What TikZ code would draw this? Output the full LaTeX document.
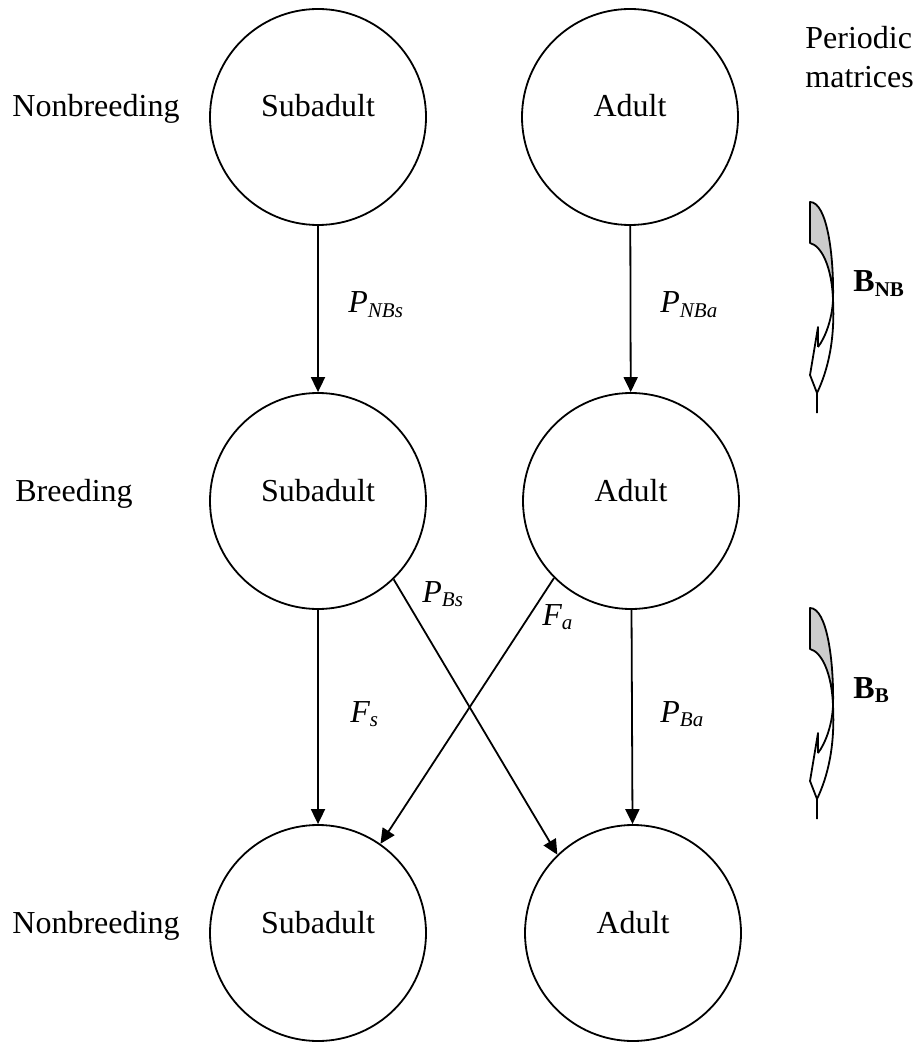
\documentclass[tikz,border=0pt]{standalone}
\usepackage{fontspec}
\setmainfont{Liberation Serif}
\usetikzlibrary{arrows.meta}
\newcommand{\subx}[2]{#1\raisebox{-2.3pt}{\fontsize{10.5}{12}\selectfont #2}}
\begin{document}
\begin{tikzpicture}[x=0.5pt,y=-0.5pt,
  circ/.style={circle,draw,line width=0.9pt,minimum size=108pt,inner sep=0pt},
  txt/.style={font=\fontsize{16}{19}\selectfont,inner sep=0pt},
  arr/.style={line width=0.9pt,-{Triangle[length=7.5pt,width=7pt]}},
  crv/.style={line width=0.9pt,line join=round},
  shadeback/.style={fill=black!20,draw,line width=0.9pt,line join=round}]
\useasboundingbox (0,0) rectangle (918,1042);
% circles
\node[circ] (s1) at (318,117) {};
\node[circ] (a1) at (630,117) {};
\node[circ] (s2) at (318,501) {};
\node[circ] (a2) at (631,501) {};
\node[circ] (s3) at (318,933) {};
\node[circ] (a3) at (633,933) {};
% circle texts
\node[txt,anchor=base] (ts1) at (318,117) {Subadult};
\node[txt,anchor=base] (ta1) at (630,117) {Adult};
\node[txt,anchor=base] (ts2) at (318,501) {Subadult};
\node[txt,anchor=base] (ta2) at (631,501) {Adult};
\node[txt,anchor=base] (ts3) at (318,933) {Subadult};
\node[txt,anchor=base] (ta3) at (633,933) {Adult};
% row labels
\node[txt,anchor=base] (r1) at (96,117) {Nonbreeding};
\node[txt,anchor=base] (r2) at (74,501) {Breeding};
\node[txt,anchor=base] (r3) at (96,933) {Nonbreeding};
\node[txt,anchor=base west] (pm) at (805,49) {Periodic};
\node[txt,anchor=base west] (pm2) at (805,88) {matrices};
% connectors
\draw[arr] (s1) -- (s2);
\draw[arr] (a1) -- (a2);
\draw[arr] (s2) -- (s3);
\draw[arr] (a2) -- (a3);
\draw[arr] (s2.-46) -- (a3.134);
\draw[arr] (a2.-135) -- (s3.55);
% edge labels
\node[txt,anchor=base west] (l1) at (348,313) {\itshape\subx{P}{NBs}};
\node[txt,anchor=base west] (l2) at (660,313) {\itshape\subx{P}{NBa}};
\node[txt,anchor=base west] (l3) at (422,602) {\itshape\subx{P}{Bs}};
\node[txt,anchor=base west] (l4) at (542,625) {\itshape\subx{F}{a}};
\node[txt,anchor=base west] (l5) at (350,722) {\itshape\subx{F}{s}};
\node[txt,anchor=base west] (l6) at (660,722) {\itshape\subx{P}{Ba}};
% periodic matrix labels
\node[txt,anchor=base west] (bnb) at (853,292) {\bfseries\subx{B}{NB}};
\node[txt,anchor=base west] (bb) at (853,698) {\bfseries\subx{B}{B}};
% curved arrows
\foreach \dy in {0,406}{
\begin{scope}[shift={(0,\dy)}]
\filldraw[shadeback] (810,202) -- (810,243) .. controls (822,246) and (832,268) .. (833,300)
   .. controls (834,255) and (827,202) .. (810,202) -- cycle;
\draw[crv] (833,300) .. controls (835,340) and (828,370) .. (817,393);
\draw[crv] (833,300) .. controls (832,320) and (825,338) .. (818,347);
\draw[crv] (818,347) -- (818,327) -- (810,375) -- (817,393) -- (817,413);
\end{scope}
}
\end{tikzpicture}
\end{document}
